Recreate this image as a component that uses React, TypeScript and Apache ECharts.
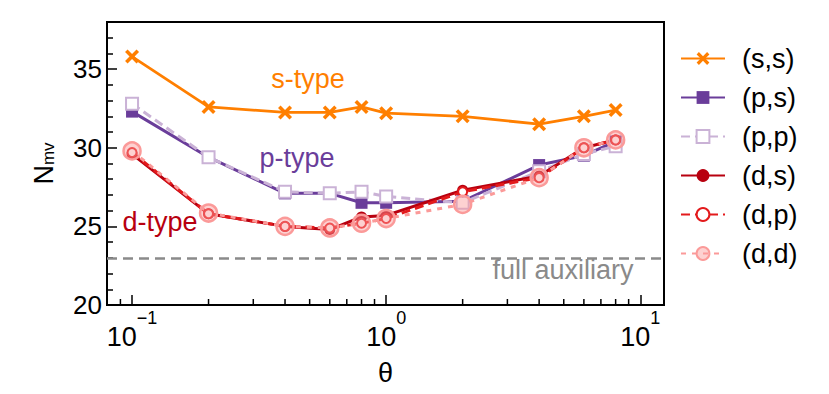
import React, { useEffect, useRef } from 'react';
import * as echarts from 'echarts';

const THETA = [0.1, 0.2, 0.4, 0.6, 0.8, 1.0, 2, 4, 6, 8];
const SS = [35.8, 32.6, 32.25, 32.25, 32.6, 32.2, 32.0, 31.5, 32.0, 32.4];
const PS = [32.3, 29.4, 27.1, 27.1, 26.5, 26.5, 26.6, 28.9, 29.5, 30.4];
const PP = [32.8, 29.4, 27.2, 27.1, 27.2, 26.9, 26.5, 28.5, 29.6, 30.1];
const DS = [29.6, 25.8, 25.0, 24.8, 25.6, 25.7, 27.3, 28.2, 30.0, 30.5];
const DP = [29.7, 25.8, 25.0, 24.9, 25.2, 25.5, 27.2, 28.1, 30.0, 30.5];
const DD = [29.8, 25.85, 25.0, 24.9, 25.2, 25.5, 26.4, 28.1, 30.0, 30.5];
const NAMES = ['(s,s)', '(p,s)', '(p,p)', '(d,s)', '(d,p)', '(d,d)'];
const X_MIN = 0.0797;
const X_MAX = 12.4;
const X_MINOR = [0.09, 0.2, 0.3, 0.4, 0.5, 0.6, 0.7, 0.8, 0.9, 2, 3, 4, 5, 6, 7, 8, 9];
const Y_MIN = 20;
const Y_MAX = 38;
const AUX = 23;
const ANNOTATIONS = [
  { text: 's-type', x: 308, y: 79, color: '#ff7f00' },
  { text: 'p-type', x: 297, y: 158, color: '#6a3d9a' },
  { text: 'd-type', x: 160, y: 222, color: '#b8000f' },
  { text: 'full auxiliary', x: 563, y: 270, color: '#8a8a8a' },
];

const FONT = '"Liberation Sans", Arial, sans-serif';
const XPATH = 'path://M0,1.8L1.8,0L5,3.2L8.2,0L10,1.8L6.8,5L10,8.2L8.2,10L5,6.8L1.8,10L0,8.2L3.2,5Z';

export default function App() {
  const ref = useRef<HTMLDivElement>(null);
  useEffect(() => {
    const chart = echarts.init(ref.current!, null, { renderer: 'svg' });
    const mk = (v: number[]) => THETA.map((t, i) => [t, v[i]]);
    const option: any = {
      animation: false,
      textStyle: { fontFamily: FONT },
      grid: {
        left: 107, right: 165, top: 22, bottom: 89, show: true, borderColor: '#000', borderWidth: 2,
        backgroundColor: 'transparent', containLabel: false, outerBoundsMode: 'none',
      },
      xAxis: {
        type: 'log', logBase: 10, min: X_MIN, max: X_MAX,
        axisLine: { show: true, lineStyle: { color: '#000', width: 2 } },
        axisTick: { show: true, inside: true, length: 10, lineStyle: { color: '#000', width: 1.5 } },
        splitLine: { show: false },
        axisLabel: {
          margin: 4, color: '#000', fontFamily: FONT,
          formatter: (v: number) => {
            const e = Math.log10(v);
            const r = Math.round(e);
            if (Math.abs(e - r) > 1e-6) return '';
            return `{b|10}{e|${r < 0 ? '\u2212' + -r : r}}`;
          },
          rich: {
            b: { fontSize: 27, color: '#000', fontFamily: FONT, verticalAlign: 'bottom', lineHeight: 41 },
            e: { fontSize: 18, color: '#000', fontFamily: FONT, verticalAlign: 'top', lineHeight: 41 },
          },
        },
        name: '\u03b8', nameLocation: 'middle', nameGap: 54, nameMoveOverlap: false,
        nameTextStyle: { fontSize: 27, color: '#000', fontFamily: FONT },
      },
      yAxis: {
        type: 'value', min: Y_MIN, max: Y_MAX, interval: 5,
        axisLine: { show: true, lineStyle: { color: '#000', width: 2 } },
        axisTick: { show: true, inside: true, length: 10, lineStyle: { color: '#000', width: 1.5 } },
        minorTick: { show: true, splitNumber: 5, length: 6, lineStyle: { color: '#000', width: 1.5 } },
        splitLine: { show: false },
        minorSplitLine: { show: false },
        axisLabel: {
          margin: 5, fontSize: 26, color: '#000', fontFamily: FONT,
          formatter: (v: number) => (v % 5 === 0 ? String(v) : ''),
        },
        name: '{n|N}{s|mv}', nameLocation: 'middle', nameGap: 50, nameRotate: 90, nameMoveOverlap: false,
        nameTextStyle: {
          color: '#000',
          rich: {
            n: { fontSize: 27, color: '#000', fontFamily: FONT, verticalAlign: 'bottom', lineHeight: 30 },
            s: { fontSize: 17, color: '#000', fontFamily: FONT, verticalAlign: 'bottom', lineHeight: 30 },
          },
        },
      },
      legend: {
        orient: 'vertical', left: 675, top: 40, itemWidth: 44, itemHeight: 16, itemGap: 12,
        textStyle: { fontSize: 27, color: '#000', fontFamily: FONT, padding: [0, 0, 0, 12] },
        data: NAMES,
      },
      graphic: ANNOTATIONS.map((a) => ({
        type: 'text', x: a.x, y: a.y, silent: true,
        style: { text: a.text, fill: a.color, font: `27px ${FONT}`, align: 'center', verticalAlign: 'middle' },
      })),
      series: [
        {
          name: NAMES[0], type: 'line', data: mk(SS), symbol: XPATH, symbolSize: 14,
          lineStyle: { color: '#ff7f00', width: 2.8 }, itemStyle: { color: '#ff7f00' },
          markLine: {
            silent: true, symbol: ['none', 'none'], label: { show: false },
            lineStyle: { color: '#8a8a8a', type: [10, 6], width: 2.5 },
            data: [{ yAxis: AUX }],
          },
        },
        {
          name: NAMES[1], type: 'line', data: mk(PS), symbol: 'rect', symbolSize: 12,
          lineStyle: { color: '#6a3d9a', width: 3 }, itemStyle: { color: '#6a3d9a' },
        },
        {
          name: NAMES[2], type: 'line', data: mk(PP), symbol: 'emptyRect', symbolSize: 12,
          lineStyle: { color: '#cab2d6', width: 3, type: [9, 5] }, itemStyle: { color: '#cab2d6', borderWidth: 4 },
        },
        {
          name: NAMES[3], type: 'line', data: mk(DS), symbol: 'circle', symbolSize: 11,
          lineStyle: { color: '#b8000f', width: 3 }, itemStyle: { color: '#b8000f' },
        },
        {
          name: NAMES[4], type: 'line', data: mk(DP), symbol: 'emptyCircle', symbolSize: 9,
          lineStyle: { color: '#e31a1c', width: 3, type: [9, 5] }, itemStyle: { color: '#e31a1c', borderWidth: 3 },
        },
        {
          name: NAMES[5], type: 'line', data: mk(DD), symbol: 'circle', symbolSize: 17,
          lineStyle: { color: '#fb9a99', width: 3, type: [5, 6] },
          itemStyle: { color: 'rgba(251,154,153,0.45)', borderColor: '#fb9a99', borderWidth: 2.5 },
        },
        {
          type: 'custom', silent: true, clip: false,
          data: X_MINOR.map((v) => [v, Y_MIN]),
          encode: { x: 0, y: 1 },
          renderItem: (params: any, api: any) => {
            const p = api.coord([api.value(0), api.value(1)]);
            return {
              type: 'line',
              shape: { x1: p[0], y1: p[1], x2: p[0], y2: p[1] - 6 },
              style: { stroke: '#000', lineWidth: 1.5 },
            };
          },
        },
      ],
    };
    chart.setOption(option);
    return () => chart.dispose();
  }, []);
  return <div ref={ref} style={{ position: 'absolute', left: 0, top: 0, width: 829, height: 394 }} />;
}
